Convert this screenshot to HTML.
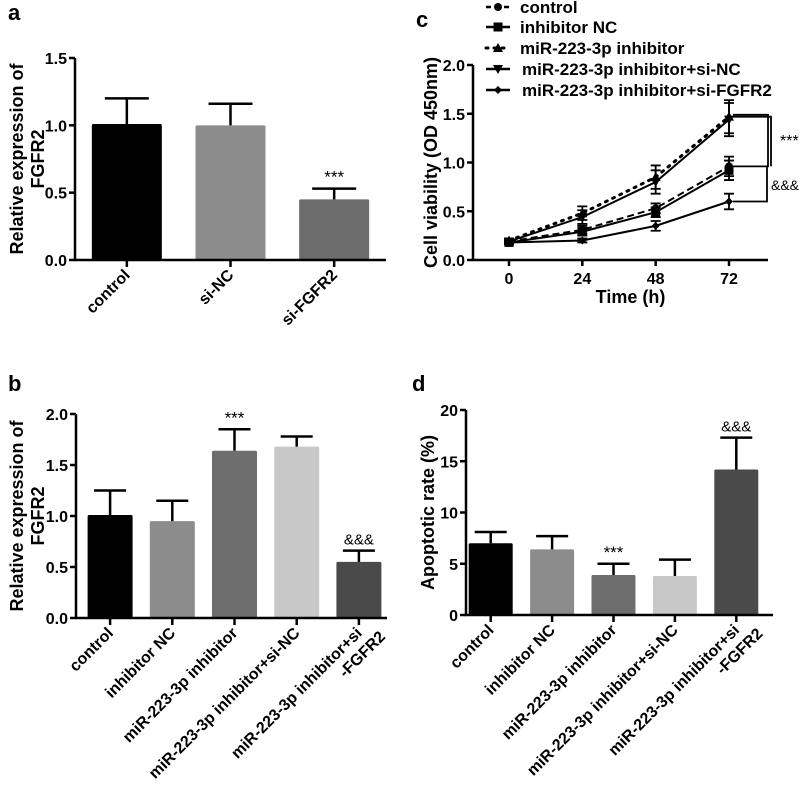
<!DOCTYPE html>
<html><head><meta charset="utf-8"><style>
html,body{margin:0;padding:0;background:#fff;}
svg{display:block;font-family:"Liberation Sans",Arial,sans-serif;font-weight:bold;}
</style></head><body>
<svg id="fig" width="800" height="791" viewBox="0 0 800 791"></svg>
<script>
// ---- data ----
const aCats = ["control","si-NC","si-FGFR2"];
const aVals = [1.01,1.00,0.45];
const aErr = [0.19,0.16,0.08];
const aTicks = [0,0.5,1.0,1.5];
const aTickLabels = ["0.0","0.5","1.0","1.5"];

const bCats = ["control","inhibitor NC","miR-223-3p inhibitor","miR-223-3p inhibitor+si-NC","miR-223-3p inhibitor+si|-FGFR2"];
const bVals = [1.01,0.95,1.64,1.68,0.55];
const bErr = [0.24,0.20,0.21,0.10,0.11];
const bTicks = [0,0.5,1.0,1.5,2.0];
const bTickLabels = ["0.0","0.5","1.0","1.5","2.0"];

const dVals = [7.0,6.4,3.9,3.8,14.2];
const dErr = [1.1,1.3,1.1,1.6,3.1];
const dTicks = [0,5,10,15,20];
const dTickLabels = ["0","5","10","15","20"];

const cTimes = [0,24,48,72];
const cNames = ["control","inhibitor NC","miR-223-3p inhibitor","miR-223-3p inhibitor+si-NC","miR-223-3p inhibitor+si-FGFR2"];
const cControl = [0.19,0.31,0.53,0.96];
const cInhNC = [0.18,0.29,0.49,0.92];
const cMiR = [0.20,0.48,0.85,1.47];
const cSiNC = [0.19,0.44,0.80,1.44];
const cSiFGFR2 = [0.18,0.20,0.35,0.60];
const cErrCtrl = [0.02,0.04,0.05,0.10];
const cErrTop = [0.02,0.07,0.12,0.17];
const cErrLow = [0.02,0.02,0.05,0.08];
const cTicks = [0,0.5,1.0,1.5,2.0];
const cTickLabels = ["0.0","0.5","1.0","1.5","2.0"];

const NS="http://www.w3.org/2000/svg";
const svg=document.getElementById('fig');
function el(tag,attrs,parent){const e=document.createElementNS(NS,tag);for(const k in attrs)e.setAttribute(k,attrs[k]);(parent||svg).appendChild(e);return e;}
function txt(s,attrs,parent){const e=el('text',attrs,parent);e.textContent=s;return e;}

function barChart(o){
  const g=el('g',{});
  
  
  const y=v=>o.y0-(v/o.max)*(o.y0-o.y1);
  const l=txt(o.letter,{x:o.lx,y:o.ly,'font-size':22},g);
  
  const n=o.vals.length, step=(o.xEnd-o.ax-o.pad)/n;
  o.vals.forEach((v,i)=>{
    const cx=o.ax+o.pad/2+step*(i+0.5)+o.shift;
    const r=el('rect',{x:cx-o.bw/2,y:y(v),width:o.bw,height:o.y0-y(v),fill:o.colors[i],rx:1.5},g);
    
    const e=v+o.err[i];
    const eb=el('path',{d:`M${cx} ${y(v)}V${y(e)}M${cx-o.cap} ${y(e)}H${cx+o.cap}`,stroke:'#000','stroke-width':2.5,fill:'none'},g);
    
    if(o.marks[i]){const m=txt(o.marks[i],{x:cx,y:y(e)-6,'text-anchor':'middle','font-size':o.marks[i]==='***'?17:15,'font-weight':'normal'},g);
      }
    el('line',{x1:cx,x2:cx,y1:o.y0,y2:o.y0+7,stroke:'#000','stroke-width':2.5},g);
    const parts=o.cats[i].split('|');
    const t=el('text',{transform:`translate(${cx+4},${o.y0+16}) rotate(-45)`,'text-anchor':'end','font-size':16},g);
    parts.forEach((p,k)=>{const ts=el('tspan',{x:(k?14:0),dy:(k?19:0)},t);ts.textContent=p;});
    
  });
  el('path',{d:`M${o.ax} ${o.y1}V${o.y0}H${o.xEnd}`,stroke:'#000','stroke-width':2.5,fill:'none'},g);
  o.ticks.forEach((t,i)=>{
    el('line',{x1:o.ax-6,x2:o.ax,y1:y(t),y2:y(t),stroke:'#000','stroke-width':2.5},g);
    const tl=txt(o.tickLabels[i],{x:o.ax-8,y:y(t)+6,'text-anchor':'end','font-size':16},g);
    
  });
  const yt=el('text',{transform:`translate(${o.tx},${(o.y0+o.y1)/2}) rotate(-90)`,'text-anchor':'middle','font-size':18},g);
  o.title.forEach((p,k)=>{const ts=el('tspan',{x:0,dy:(k?21:0)},yt);ts.textContent=p;});
  
}

barChart({name:'panel-a-chart',letter:'a',lx:8,ly:20,ax:75,xEnd:386,y0:260,y1:58,max:1.5,pad:0,shift:0,bw:70,cap:22,
  vals:aVals,err:aErr,cats:aCats,colors:['#000','#8c8c8c','#6c6c6c'],marks:['','','***'],
  ticks:aTicks,tickLabels:aTickLabels,title:['Relative expression of','FGFR2'],tx:23});
barChart({name:'panel-b-chart',letter:'b',lx:8,ly:391,ax:76,xEnd:387,y0:618,y1:414,max:2.0,pad:0,shift:3,bw:45,cap:16,
  vals:bVals,err:bErr,cats:bCats,colors:['#000','#8c8c8c','#6e6e6e','#c8c8c8','#4a4a4a'],marks:['','','***','','&&&'],
  ticks:bTicks,tickLabels:bTickLabels,title:['Relative expression of','FGFR2'],tx:23});
barChart({name:'panel-d-chart',letter:'d',lx:412,ly:391,ax:466,xEnd:773,y0:615,y1:410,max:20,pad:0,shift:-6,bw:44,cap:16,
  vals:dVals,err:dErr,cats:bCats,colors:['#000','#8c8c8c','#6e6e6e','#c8c8c8','#4a4a4a'],marks:['','','***','','&&&'],
  ticks:dTicks,tickLabels:dTickLabels,title:['Apoptotic rate (%)'],tx:434});

// ---- panel c line chart ----
(function(){
  const g=el('g',{});
  
  const ax=473,y0=260,y1=65,x0=509,x72=729,xEnd=768;
  const y=v=>y0-v/2*(y0-y1), x=t=>x0+t/72*(x72-x0);
  const l=txt('c',{x:416,y:27,'font-size':22},g);
  
  el('path',{d:`M${ax} ${y1}V${y0}H${xEnd}`,stroke:'#000','stroke-width':2.5,fill:'none'},g);
  cTicks.forEach((t,i)=>{el('line',{x1:ax-6,x2:ax,y1:y(t),y2:y(t),stroke:'#000','stroke-width':2.5},g);
    const tl=txt(cTickLabels[i],{x:ax-8,y:y(t)+6,'text-anchor':'end','font-size':16},g);
    });
  cTimes.forEach(t=>{el('line',{x1:x(t),x2:x(t),y1:y0,y2:y0+6,stroke:'#000','stroke-width':2.5},g);
    const tl=txt(String(t),{x:x(t),y:y0+24,'text-anchor':'middle','font-size':16},g);
    });
  const xt=txt('Time (h)',{x:(ax+xEnd)/2+10,y:303,'text-anchor':'middle','font-size':18},g);
  
  const yt=txt('Cell viability (OD 450nm)',{transform:`translate(437,${(y0+y1)/2}) rotate(-90)`,'text-anchor':'middle','font-size':18},g);
  
  const series=[
    {v:cControl,e:cErrCtrl,dash:'7,4',mk:'circle'},
    {v:cInhNC,e:cErrCtrl,dash:'',mk:'square'},
    {v:cMiR,e:cErrTop,dash:'2,6',mk:'tri'},
    {v:cSiNC,e:cErrTop,dash:'',mk:'tridown'},
    {v:cSiFGFR2,e:cErrLow,dash:'',mk:'diamond'}];
  function marker(kind,cx,cy,p,s){
    s=s||1;let m;
    if(kind==='circle')m=el('circle',{cx,cy,r:4*s},p);
    else if(kind==='square')m=el('rect',{x:cx-4.5*s,y:cy-4.5*s,width:9*s,height:9*s},p);
    else if(kind==='tri')m=el('path',{d:`M${cx} ${cy-5*s}L${cx+5*s} ${cy+4*s}L${cx-5*s} ${cy+4*s}Z`},p);
    else if(kind==='tridown')m=el('path',{d:`M${cx} ${cy+5*s}L${cx+5*s} ${cy-4*s}L${cx-5*s} ${cy-4*s}Z`},p);
    else m=el('path',{d:`M${cx} ${cy-4*s}L${cx+4*s} ${cy}L${cx} ${cy+4*s}L${cx-4*s} ${cy}Z`},p);
    m.setAttribute('fill','#000');return m;
  }
  series.forEach((s,i)=>{
    const sg=el('g',{},g);
    
    const d=s.v.map((v,k)=>(k?'L':'M')+x(cTimes[k])+' '+y(v)).join('');
    el('path',{d,stroke:'#000','stroke-width':s.dash==='2,6'?3:2,'stroke-dasharray':s.dash,'stroke-linecap':s.dash==='2,6'?'round':'butt',fill:'none'},sg);
    s.v.forEach((v,k)=>{
      const cx=x(cTimes[k]);
      el('path',{d:`M${cx} ${y(v-s.e[k])}V${y(v+s.e[k])}M${cx-5} ${y(v+s.e[k])}H${cx+5}M${cx-5} ${y(v-s.e[k])}H${cx+5}`,stroke:'#000','stroke-width':1.8,fill:'none'},sg);
      marker(s.mk,cx,y(v),sg);
    });
  });
  const br=el('path',{d:`M733 ${y(1.49)}H768V${y(0.96)}H733M733 ${y(1.47)}H771V${y(0.96)}M733 ${y(0.96)}H767V${y(0.60)}H733`,stroke:'#000','stroke-width':1.8,fill:'none'},g);
  
  const s1=txt('***',{x:780,y:146,'font-size':16,'font-weight':'normal'},g);
  
  const s2=txt('&&&',{x:771,y:190,'font-size':14,'font-weight':'normal'},g);
  
  const ly=[7,27,48,69,90];
  cNames.forEach((n,i)=>{
    const lg=el('g',{},g);
    
    const s=series[i];
    el('line',{x1:486,x2:510,y1:ly[i],y2:ly[i],stroke:'#000','stroke-width':s.dash==='2,6'?3:2.5,'stroke-dasharray':s.dash==='2,6'?'2,6':(s.dash?'5,4':''),'stroke-linecap':s.dash==='2,6'?'round':'butt'},lg);
    marker(s.mk,498,ly[i],lg);
    txt(n,{x:i>=3?522:520,y:ly[i]+6,'font-size':17},lg);
  });
})();
</script>
</body></html>
